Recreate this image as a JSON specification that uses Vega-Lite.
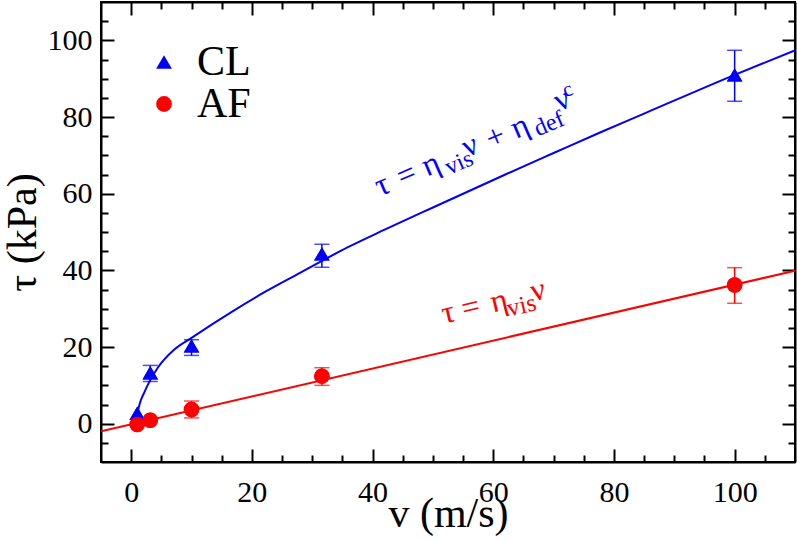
{
  "$schema": "https://vega.github.io/schema/vega-lite/v6.json",
  "width": 694,
  "height": 460,
  "autosize": "none",
  "padding": {"left": 101, "top": 2, "right": 2, "bottom": 79},
  "background": "white",
  "config": {
    "view": {"stroke": "black", "strokeWidth": 2},
    "font": "Liberation Serif",
    "style": {
      "guide-title": {"fontWeight": "normal"}
    },
    "axis": {
      "domainColor": "black", "domainWidth": 2,
      "tickColor": "black", "tickWidth": 2,
      "labelColor": "black", "labelFont": "Liberation Serif", "labelFontSize": 30,
      "titleFont": "Liberation Serif", "titleFontSize": 42, "titleFontWeight": "normal", "titleColor": "black",
      "grid": false, "labelOverlap": false, "labelFlush": false
    }
  },
  "datasets": {
    "points": [
      {"series": "CL", "v": 1, "tau": 2.7},
      {"series": "CL", "v": 3.16, "tau": 13.3},
      {"series": "CL", "v": 10, "tau": 20.3},
      {"series": "CL", "v": 31.6, "tau": 44.3},
      {"series": "CL", "v": 100, "tau": 91.0},
      {"series": "AF", "v": 1, "tau": -0.2},
      {"series": "AF", "v": 3.16, "tau": 0.9},
      {"series": "AF", "v": 10, "tau": 3.7},
      {"series": "AF", "v": 31.6, "tau": 12.4},
      {"series": "AF", "v": 100, "tau": 36.2}
    ],
    "errors": [
      {"series": "CL", "v": 3.16, "lo": 11.0, "hi": 15.2},
      {"series": "CL", "v": 10, "lo": 17.8, "hi": 21.9},
      {"series": "CL", "v": 31.6, "lo": 40.8, "hi": 46.8},
      {"series": "CL", "v": 100, "lo": 84.1, "hi": 97.4},
      {"series": "AF", "v": 10, "lo": 1.5, "hi": 5.9},
      {"series": "AF", "v": 31.6, "lo": 10.0, "hi": 14.6},
      {"series": "AF", "v": 100, "lo": 31.4, "hi": 40.7}
    ],
    "fits": [
      {"series": "CL", "v": 1.0, "tau": 1.8},
      {"series": "CL", "v": 1.1, "tau": 3.0},
      {"series": "CL", "v": 1.33, "tau": 4.7},
      {"series": "CL", "v": 1.6, "tau": 6.1},
      {"series": "CL", "v": 2.16, "tau": 8.1},
      {"series": "CL", "v": 3.0, "tau": 10.9},
      {"series": "CL", "v": 4.4, "tau": 14.6},
      {"series": "CL", "v": 7.1, "tau": 19.3},
      {"series": "CL", "v": 10, "tau": 22.4},
      {"series": "CL", "v": 16.8, "tau": 29.3},
      {"series": "CL", "v": 22.3, "tau": 34.5},
      {"series": "CL", "v": 27.9, "tau": 39.3},
      {"series": "CL", "v": 32, "tau": 42.8},
      {"series": "CL", "v": 36, "tau": 46.1},
      {"series": "CL", "v": 42, "tau": 50.6},
      {"series": "CL", "v": 50, "tau": 56.4},
      {"series": "CL", "v": 62, "tau": 65.0},
      {"series": "CL", "v": 70, "tau": 70.6},
      {"series": "CL", "v": 77.6, "tau": 75.9},
      {"series": "CL", "v": 85, "tau": 80.9},
      {"series": "CL", "v": 100, "tau": 91.0},
      {"series": "CL", "v": 110, "tau": 97.4},
      {"series": "AF", "v": -5, "tau": -2.0},
      {"series": "AF", "v": 110, "tau": 39.9}
    ],
    "clMain": [
      {"t": "τ", "v": 41.23, "tau": 59.26},
      {"t": "=", "v": 44.88, "tau": 61.69},
      {"t": "η", "v": 49.02, "tau": 64.4},
      {"t": "ν", "v": 55.65, "tau": 69.43},
      {"t": "+", "v": 59.63, "tau": 71.44},
      {"t": "η", "v": 63.77, "tau": 74.23},
      {"t": "ν", "v": 70.89, "tau": 81.43}
    ],
    "clSub": [
      {"t": "vis", "v": 52.67, "tau": 64.87},
      {"t": "def", "v": 67.41, "tau": 74.91}
    ],
    "clSup": [
      {"t": "c", "v": 72.0, "tau": 85.09}
    ],
    "afMain": [
      {"t": "τ", "v": 51.84, "tau": 26.08},
      {"t": "=", "v": 55.15, "tau": 27.28},
      {"t": "η", "v": 59.96, "tau": 29.02},
      {"t": "ν", "v": 66.58, "tau": 31.87}
    ],
    "afSub": [
      {"t": "vis", "v": 62.61, "tau": 27.96}
    ]
  },
  "resolve": {"axis": {"x": "independent", "y": "independent"}},
  "layer": [
    {
      "data": {"name": "points"},
      "mark": {"type": "point", "filled": true, "opacity": 1, "size": 240},
      "encoding": {
        "x": {"field": "v", "type": "quantitative", "scale": {"domain": [-5, 110], "nice": false, "zero": false},
          "axis": {"orient": "bottom", "values": [0,5,10,15,20,25,30,35,40,45,50,55,60,65,70,75,80,85,90,95,100,105],
            "labelExpr": "datum.value % 20 === 0 ? datum.label : ''",
            "tickSize": {"condition": {"test": "datum.value % 20 === 0", "value": -13}, "value": -7},
            "labelPadding": 28,
            "title": "v (m/s)", "titleFont": "Liberation Serif", "titleFontSize": 42, "titleFontWeight": "normal", "titlePadding": -20}},
        "y": {"field": "tau", "type": "quantitative", "scale": {"domain": [-10, 110], "nice": false, "zero": false},
          "axis": {"orient": "left", "values": [-5,0,5,10,15,20,25,30,35,40,45,50,55,60,65,70,75,80,85,90,95,100,105],
            "labelExpr": "datum.value % 20 === 0 && datum.value >= 0 ? datum.label : ''",
            "tickSize": {"condition": {"test": "datum.value % 20 === 0", "value": -13}, "value": -7},
            "labelPadding": 22,
            "title": "τ (kPa)", "titleFont": "Liberation Serif", "titleFontSize": 42, "titleFontWeight": "normal", "titlePadding": 3}},
        "color": {"field": "series", "type": "nominal", "scale": {"domain": ["CL", "AF"], "range": ["#0000ff", "#ff0000"]},
          "legend": {"title": null, "orient": "none", "legendX": 42, "legendY": 39, "padding": 0,
            "labelFont": "Liberation Serif", "labelFontSize": 42, "labelColor": "black", "labelLimit": 0,
            "symbolSize": 250, "symbolStrokeWidth": 0, "rowPadding": -14, "labelOffset": 12}},
        "shape": {"field": "series", "type": "nominal", "scale": {"domain": ["CL", "AF"], "range": ["triangle-up", "circle"]}}
      }
    },
    {
      "data": {"name": "fits"},
      "mark": {"type": "line", "strokeWidth": 2, "interpolate": "monotone", "clip": true},
      "encoding": {
        "x": {"field": "v", "type": "quantitative", "scale": {"domain": [-5, 110], "nice": false, "zero": false},
          "axis": {"orient": "top", "values": [0,5,10,15,20,25,30,35,40,45,50,55,60,65,70,75,80,85,90,95,100,105],
            "labels": false, "title": null,
            "tickSize": {"condition": {"test": "datum.value % 20 === 0", "value": -13}, "value": -7}}},
        "y": {"field": "tau", "type": "quantitative", "scale": {"domain": [-10, 110], "nice": false, "zero": false},
          "axis": {"orient": "right", "values": [-5,0,5,10,15,20,25,30,35,40,45,50,55,60,65,70,75,80,85,90,95,100,105],
            "labels": false, "title": null,
            "tickSize": {"condition": {"test": "datum.value % 20 === 0", "value": -13}, "value": -7}}},
        "color": {"field": "series", "type": "nominal", "legend": null},
        "detail": {"field": "series"}
      }
    },
    {
      "data": {"name": "errors"},
      "mark": {"type": "rule", "strokeWidth": 1.5},
      "encoding": {
        "x": {"field": "v", "type": "quantitative", "axis": null},
        "y": {"field": "lo", "type": "quantitative", "axis": null},
        "y2": {"field": "hi"},
        "color": {"field": "series", "type": "nominal", "legend": null}
      }
    },
    {
      "data": {"name": "errors"},
      "mark": {"type": "tick", "orient": "horizontal", "size": 15, "thickness": 1.5},
      "encoding": {
        "x": {"field": "v", "type": "quantitative", "axis": null},
        "y": {"field": "lo", "type": "quantitative", "axis": null},
        "color": {"field": "series", "type": "nominal", "legend": null}
      }
    },
    {
      "data": {"name": "errors"},
      "mark": {"type": "tick", "orient": "horizontal", "size": 15, "thickness": 1.5},
      "encoding": {
        "x": {"field": "v", "type": "quantitative", "axis": null},
        "y": {"field": "hi", "type": "quantitative", "axis": null},
        "color": {"field": "series", "type": "nominal", "legend": null}
      }
    },
    {
      "data": {"name": "points"},
      "mark": {"type": "point", "filled": true, "opacity": 1, "size": 240},
      "encoding": {
        "x": {"field": "v", "type": "quantitative", "axis": null},
        "y": {"field": "tau", "type": "quantitative", "axis": null},
        "color": {"field": "series", "type": "nominal", "legend": null},
        "shape": {"field": "series", "type": "nominal", "legend": null}
      }
    },
    {
      "data": {"name": "clMain"},
      "mark": {"type": "text", "angle": -23, "align": "left", "baseline": "alphabetic", "font": "Liberation Serif", "fontSize": 32, "color": "#0000ff"},
      "encoding": {
        "x": {"field": "v", "type": "quantitative", "axis": null},
        "y": {"field": "tau", "type": "quantitative", "axis": null},
        "text": {"field": "t"}
      }
    },
    {
      "data": {"name": "clSub"},
      "mark": {"type": "text", "angle": -23, "align": "left", "baseline": "alphabetic", "font": "Liberation Serif", "fontSize": 24, "color": "#0000ff"},
      "encoding": {
        "x": {"field": "v", "type": "quantitative", "axis": null},
        "y": {"field": "tau", "type": "quantitative", "axis": null},
        "text": {"field": "t"}
      }
    },
    {
      "data": {"name": "clSup"},
      "mark": {"type": "text", "angle": -23, "align": "left", "baseline": "alphabetic", "font": "Liberation Serif", "fontSize": 21, "color": "#0000ff"},
      "encoding": {
        "x": {"field": "v", "type": "quantitative", "axis": null},
        "y": {"field": "tau", "type": "quantitative", "axis": null},
        "text": {"field": "t"}
      }
    },
    {
      "data": {"name": "afMain"},
      "mark": {"type": "text", "angle": -13, "align": "left", "baseline": "alphabetic", "font": "Liberation Serif", "fontSize": 32, "color": "#ff0000"},
      "encoding": {
        "x": {"field": "v", "type": "quantitative", "axis": null},
        "y": {"field": "tau", "type": "quantitative", "axis": null},
        "text": {"field": "t"}
      }
    },
    {
      "data": {"name": "afSub"},
      "mark": {"type": "text", "angle": -13, "align": "left", "baseline": "alphabetic", "font": "Liberation Serif", "fontSize": 25, "color": "#ff0000"},
      "encoding": {
        "x": {"field": "v", "type": "quantitative", "axis": null},
        "y": {"field": "tau", "type": "quantitative", "axis": null},
        "text": {"field": "t"}
      }
    }
  ]
}
